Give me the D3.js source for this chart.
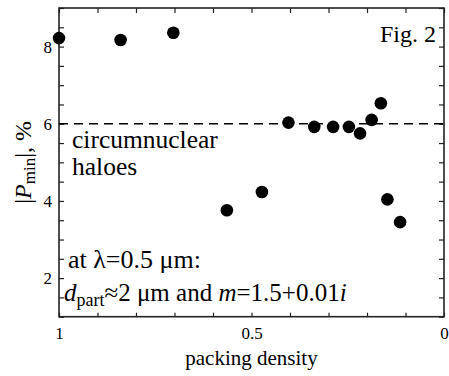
<!DOCTYPE html>
<html>
<head>
<meta charset="utf-8">
<script src="https://cdn.jsdelivr.net/npm/d3@7"></script>
<style>
  body { margin: 0; background: #fff; }
</style>
</head>
<body>
<div id="chart"></div>
<script>
// packing density vs |P_min| (%)
const packing = [1.0, 0.84, 0.703, 0.564, 0.473, 0.404, 0.337, 0.288, 0.247, 0.218, 0.188, 0.164, 0.147, 0.114];
const pmin = [8.22, 8.17, 8.36, 3.76, 4.23, 6.03, 5.92, 5.92, 5.92, 5.75, 6.10, 6.53, 4.04, 3.45];
const xTicks = [1, 0.9, 0.8, 0.7, 0.6, 0.5, 0.4, 0.3, 0.2, 0.1, 0];
const xLabels = [1, 0.5, 0];
const yTicks = [1, 1.5, 2, 2.5, 3, 3.5, 4, 4.5, 5, 5.5, 6, 6.5, 7, 7.5, 8, 8.5, 9];
const yLabels = [2, 4, 6, 8];
const haloLevel = 6;

const width = 449, height = 376;
const margin = { top: 8, right: 5, bottom: 59.3, left: 59 };
const serif = '"Liberation Serif", "Times New Roman", Times, serif';

const svg = d3.select('#chart').append('svg')
  .attr('width', width)
  .attr('height', height);

const x = d3.scaleLinear().domain([1, 0]).range([margin.left, width - margin.right]);
const y = d3.scaleLinear().domain([1, 9]).range([height - margin.bottom, margin.top]);

const fmtX = d => xLabels.includes(d) ? String(d) : '';
const fmtY = d => yLabels.includes(d) ? String(d) : '';

function styleAxis(g) {
  g.attr('font-family', null);
  g.select('.domain').remove();
  g.selectAll('.tick line').attr('stroke', '#222').attr('stroke-width', 1.2);
  g.selectAll('.tick text').attr('font-size', 17).attr('fill', '#000');
}

svg.append('g')
  .attr('transform', `translate(0,${y(1)})`)
  .call(d3.axisBottom(x).tickValues(xTicks).tickSize(-4).tickPadding(10).tickFormat(fmtX))
  .call(styleAxis);

svg.append('g')
  .attr('transform', `translate(0,${y(9)})`)
  .call(d3.axisTop(x).tickValues(xTicks).tickSize(-5).tickFormat(''))
  .call(styleAxis);

svg.append('g')
  .attr('transform', `translate(${x(1)},0)`)
  .call(d3.axisLeft(y).tickValues(yTicks).tickSize(-5).tickPadding(7).tickFormat(fmtY))
  .call(styleAxis);

svg.append('g')
  .attr('transform', `translate(${x(0)},0)`)
  .call(d3.axisRight(y).tickValues(yTicks).tickSize(-5).tickFormat(''))
  .call(styleAxis);

// frame
svg.append('rect')
  .attr('x', x(1)).attr('y', y(9))
  .attr('width', x(0) - x(1)).attr('height', y(1) - y(9))
  .attr('fill', 'none').attr('stroke', '#222').attr('stroke-width', 1.6);

// dashed level
svg.append('line')
  .attr('x1', x(1)).attr('x2', x(0))
  .attr('y1', y(haloLevel)).attr('y2', y(haloLevel))
  .attr('stroke', '#000').attr('stroke-width', 1.5)
  .attr('stroke-dasharray', '9,6');

// points
svg.append('g').selectAll('circle')
  .data(packing.map((p, i) => ({ p, v: pmin[i] })))
  .join('circle')
  .attr('cx', d => x(d.p))
  .attr('cy', d => y(d.v))
  .attr('r', 6.3)
  .attr('fill', '#000');

// annotations
svg.append('text').attr('x', 436).attr('y', 42).attr('text-anchor', 'end')
  .attr('font-size', 24).text('Fig. 2');

svg.append('text').attr('x', 72).attr('y', 148).attr('font-size', 25.5).text('circumnuclear');
svg.append('text').attr('x', 72).attr('y', 175).attr('font-size', 25.5).text('haloes');

svg.append('text').attr('x', 68).attr('y', 268).attr('font-size', 26).text('at λ=0.5 μm:');

const t2 = svg.append('text').attr('x', 64).attr('y', 301).attr('font-size', 25);
t2.append('tspan').attr('font-style', 'italic').text('d');
t2.append('tspan').attr('font-size', 18).attr('dy', 5).text('part');
t2.append('tspan').attr('dy', -5).text('≈2 μm and ');
t2.append('tspan').attr('font-style', 'italic').text('m');
t2.append('tspan').text('=1.5+0.01');
t2.append('tspan').attr('font-style', 'italic').text('i');

// axis titles
svg.append('text')
  .attr('x', (x(1) + x(0)) / 2).attr('y', 365)
  .attr('text-anchor', 'middle').attr('font-size', 21)
  .text('packing density');

const yl = svg.append('text')
  .attr('transform', `translate(31,${(y(1) + y(9)) / 2}) rotate(-90)`)
  .attr('text-anchor', 'middle').attr('font-size', 24);
yl.append('tspan').text('|');
yl.append('tspan').attr('font-style', 'italic').text('P');
yl.append('tspan').attr('font-size', 17).attr('dy', 4).text('min');
yl.append('tspan').attr('dy', -4).text('|, %');

// serif everywhere, set on every text and tspan
svg.selectAll('text, tspan').attr('font-family', serif).style('font-family', serif);
</script>
</body>
</html>
